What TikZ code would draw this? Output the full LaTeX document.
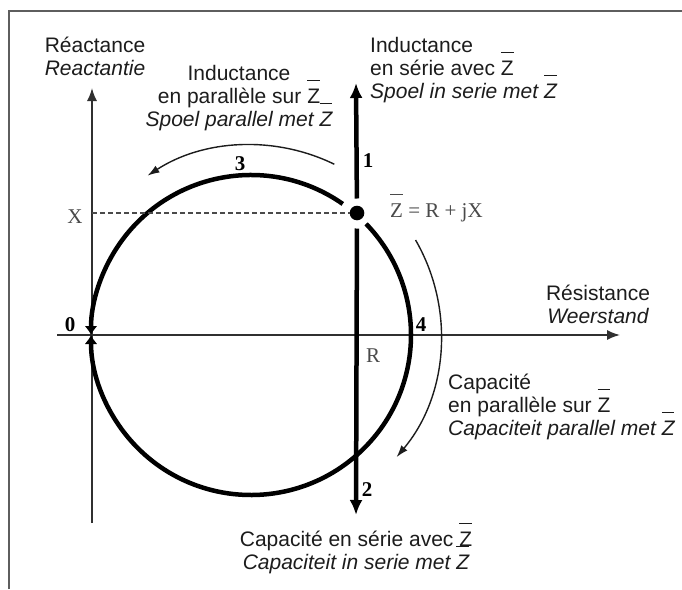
\documentclass[tikz,border=0pt]{standalone}
\usepackage{fontspec}
\setmainfont{Liberation Serif}
\newfontfamily\lsans{Liberation Sans}
\usetikzlibrary{arrows.meta}
\definecolor{framec}{HTML}{5E5E5E}
\definecolor{axc}{HTML}{303030}
\definecolor{txc}{HTML}{1C1C1C}
\definecolor{labc}{HTML}{4A4A4A}
\newcommand{\zb}{\makebox[0pt][l]{\raisebox{1.03em}{\rule{0.6em}{0.065em}}}Z}
\begin{document}
\begin{tikzpicture}[x=1pt,y=-1pt,
  txt/.style={font=\lsans\fontsize{21}{23}\selectfont, text=txc, inner sep=0pt, anchor=base},
  itxt/.style={txt, font=\lsans\itshape\fontsize{21}{23}\selectfont},
  txtl/.style={txt, anchor=base west},
  itxtl/.style={itxt, anchor=base west},
  lab/.style={font=\fontsize{21}{23}\selectfont, text=labc, inner sep=0pt, anchor=base},
  num/.style={font=\bfseries\fontsize{21}{23}\selectfont, text=black, inner sep=0pt, anchor=base},
  thinax/.style={draw=axc, line width=1.6pt, -{Latex[length=13pt,width=10pt]}},
  boldax/.style={draw=black, line width=4.5pt, -{Latex[length=15pt,width=13pt]}},
  circarc/.style={draw=black, line width=4.5pt, -{Latex[length=9pt,width=13pt]}},
  motion/.style={draw=txc, line width=1.4pt, -{Latex[length=12pt,width=8pt]}}
]
\useasboundingbox (0,0) rectangle (682,589);
% frame
\draw[framec, line width=2pt] (8.5,589) -- (8.5,10.5) -- (682,10.5);
% coordinates
\coordinate (C) at (251,335);
\coordinate (Vb) at (92,523);
\coordinate (Vt) at (92,88);
\coordinate (Hl) at (57,335);
\coordinate (Hr) at (620,335);
\coordinate (Xa) at (92,213);
\coordinate (B1) at (356,83);
\coordinate (B2) at (356,515);
% axes
\draw[thinax] (Vb) -- (Vt);
\draw[thinax] (Hl) -- (Hr);
% circle (two arcs ending at the origin)
\draw[circarc] (C) ++(-55:160) arc[start angle=-55, end angle=-180, radius=160];
\draw[circarc] (C) ++(-44:160) arc[start angle=-44, end angle=180, radius=160];
% motion arrows
\draw[motion] (C) ++(-64:190) arc[start angle=-64, end angle=-123, radius=190];
\draw[motion] (C) ++(-30:190) arc[start angle=-30, end angle=40, radius=190];
% Z point
\node[circle, fill=black, minimum size=14.6pt, inner sep=0pt] (Z) at (357,213) {};
\draw[labc, line width=1.2pt, dash pattern=on 5pt off 3pt] (Xa) -- (Z);
\draw[boldax, shorten <=7pt] (Z) -- (B1);
\draw[boldax, shorten <=8pt] (Z) -- (B2);
% serif labels
\node[lab] (lX) at (75,223) {X};
\node[lab] (lR) at (373,362) {R};
\node[lab, anchor=base west] (lZ) at (390,217) {\zb\ = R + jX};
\node[num] (n0) at (70,331) {0};
\node[num] (n1) at (368,167) {1};
\node[num] (n2) at (367,496) {2};
\node[num] (n3) at (240,170) {3};
\node[num] (n4) at (421,331) {4};
% texts
\node[txt] (re1) at (95,52) {Réactance};
\node[itxt] (re2) at (95,75) {Reactantie};
\node[txt] (ip1) at (239,80) {Inductance};
\node[txt] (ip2) at (239,103) {en parallèle sur \zb};
\node[itxt] (ip3) at (239,126) {Spoel parallel met \zb};
\node[txtl] (is1) at (370,52) {Inductance};
\node[txtl] (is2) at (370,75) {en série avec \zb};
\node[itxtl] (is3) at (370,98) {Spoel in serie met \zb};
\node[txt] (rs1) at (598,300) {Résistance};
\node[itxt] (rs2) at (598,323) {Weerstand};
\node[txtl] (cp1) at (448,389) {Capacité};
\node[txtl] (cp2) at (448,412) {en parallèle sur \zb};
\node[itxtl] (cp3) at (448,435) {Capaciteit parallel met \zb};
\node[txt] (cs1) at (356,546) {Capacité en série avec \zb};
\node[itxt] (cs2) at (356,569) {Capaciteit in serie met \zb};
\end{tikzpicture}
\end{document}
